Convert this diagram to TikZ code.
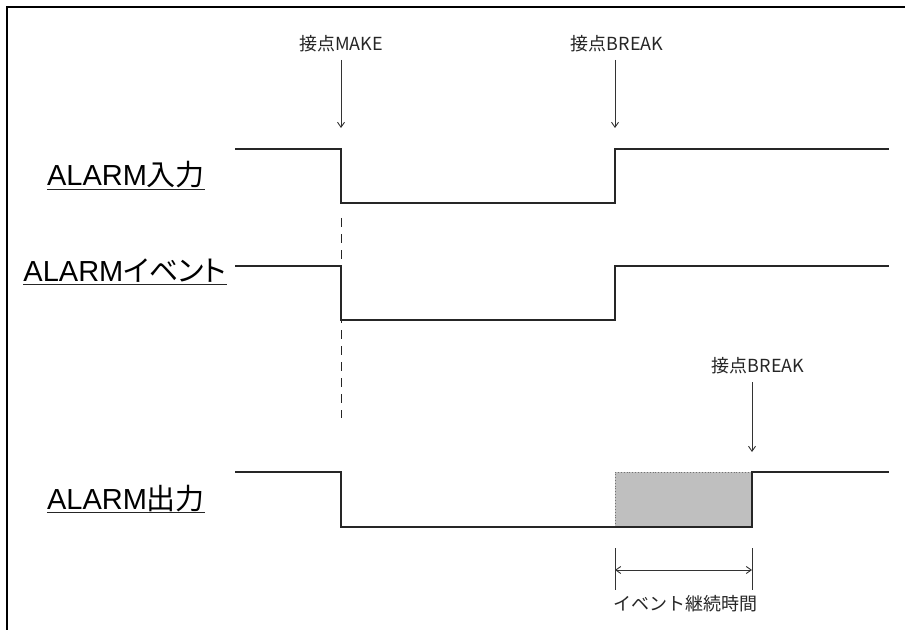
\documentclass[tikz,border=0pt]{standalone}
\usepackage{fontspec}
\setmainfont{Liberation Sans}
\newfontfamily\jpfont{Noto Sans CJK JP}
\newfontfamily\jpprop[RawFeature=+palt]{Noto Sans CJK JP}
\usetikzlibrary{arrows.meta}
\begin{document}
\begin{tikzpicture}[x=1bp,y=-1bp,
  sig/.style={line width=1.6bp, draw=black!85, line join=miter},
  markarrow/.style={line width=0.9bp, draw=black!80, -{Straight Barb[length=5bp,width=7bp]}},
  dimarrow/.style={line width=0.9bp, draw=black!80, {Straight Barb[length=5bp,width=7bp]}-{Straight Barb[length=5bp,width=7bp]}},
  thinline/.style={line width=0.9bp, draw=black!80},
  smalllbl/.style={font=\jpfont\fontsize{18bp}{20bp}\selectfont, text=black!85, inner sep=0pt},
  biglbl/.style={font=\fontsize{29bp}{32bp}\selectfont, text=black, inner sep=0pt, anchor=base},
  uline/.style={line width=1.6bp, draw=black!85},
  border/.style={line width=2.5bp, draw=black},
]
\useasboundingbox (0,0) rectangle (905,630);
% frame (top and left edges)
\coordinate (frTL) at (7,7);
\coordinate (frTR) at (905,7);
\coordinate (frBL) at (7,630);
\draw[border] (frTR) -- (frTL) -- (frBL);

% signal labels
\node[biglbl] (l1) at (126,186) {ALARM{\jpfont 入力}};
\node[biglbl] (l2) at (125,281) {ALARM{\jpprop イベント}};
\node[biglbl] (l3) at (126,509) {ALARM{\jpfont 出力}};
\foreach \n in {l1,l2,l3}{
  \draw[uline] ([yshift=-3.5bp]\n.base west) -- ([yshift=-3.5bp]\n.base east);
}

% shaded event duration
\coordinate (gTL) at (615,472);
\coordinate (gBR) at (752,527);
\fill[black!25] (gTL) rectangle (gBR);
\draw[line width=0.9bp, draw=black!55, dotted] (gTL |- gBR) -- (gTL) -- (gBR |- gTL);

% dashed guide
\coordinate (dA) at (341,218);
\coordinate (dB) at (341,418);
\draw[line width=0.9bp, draw=black!85, dash pattern=on 9bp off 7bp] (dA) -- (dB);

% signals
\draw[sig] (235,149) -- (341,149) -- (341,203) -- (615,203) -- (615,149) -- (889,149);
\draw[sig] (235,266) -- (341,266) -- (341,320) -- (615,320) -- (615,266) -- (889,266);
\draw[sig] (235,472) -- (341,472) -- (341,527) -- (752,527) -- (752,472) -- (889,472);

% event markers
\node[smalllbl] (mk) at (341,43.5) {接点MAKE};
\node[smalllbl] (bk1) at (617,43.5) {接点BREAK};
\node[smalllbl] (bk2) at (758,366) {接点BREAK};
\coordinate (mkT) at (341,128);
\coordinate (bk1T) at (615,128);
\coordinate (bk2T) at (752,452);
\draw[markarrow] ([yshift=-8bp]mk.south -| mkT) -- (mkT);
\draw[markarrow] ([yshift=-8bp]bk1.south -| bk1T) -- (bk1T);
\draw[markarrow] ([yshift=-8bp]bk2.south -| bk2T) -- (bk2T);

% duration dimension
\coordinate (t1a) at (615,548);
\coordinate (t1b) at (615,590);
\coordinate (t2a) at (752,548);
\coordinate (t2b) at (752,590);
\draw[thinline] (t1a) -- (t1b);
\draw[thinline] (t2a) -- (t2b);
\coordinate (da) at (615,570);
\coordinate (db) at (752,570);
\draw[dimarrow] (da) -- (db);
\node[smalllbl, anchor=west] (dur) at (613,604) {イベント継続時間};
\end{tikzpicture}
\end{document}
